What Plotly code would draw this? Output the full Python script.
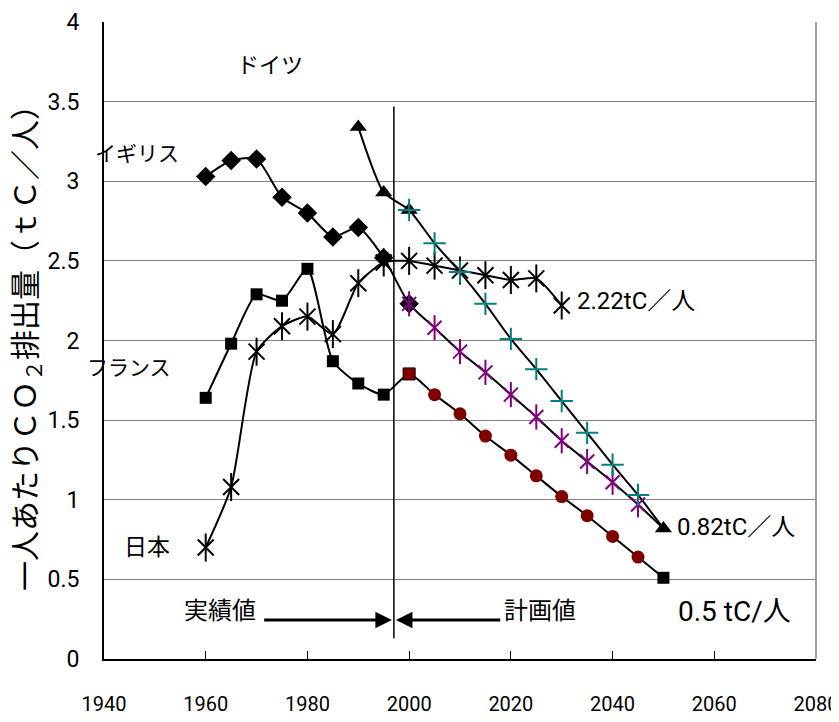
import plotly.graph_objects as go

# ---------------- data ----------------
ACT_YEARS = [1960, 1965, 1970, 1975, 1980, 1985, 1990, 1995]
PLAN_YEARS = [2000, 2005, 2010, 2015, 2020, 2025, 2030, 2035, 2040, 2045, 2050]

UK_ACT = [3.03, 3.13, 3.14, 2.90, 2.80, 2.65, 2.71, 2.52]
UK_PLAN = [2.23, 2.08, 1.93, 1.80, 1.66, 1.52, 1.37, 1.24, 1.11, 0.97, 0.82]

FR_ACT = [1.64, 1.98, 2.29, 2.25, 2.45, 1.87, 1.73, 1.66]
FR_PLAN = [1.79, 1.66, 1.54, 1.40, 1.28, 1.15, 1.02, 0.90, 0.77, 0.64, 0.51]

DE_ACT_YEARS = [1990, 1995]
DE_ACT = [3.34, 2.93]
DE_PLAN = [2.82, 2.61, 2.43, 2.23, 2.01, 1.82, 1.62, 1.42, 1.22, 1.03, 0.82]

JP_YEARS = [1960, 1965, 1970, 1975, 1980, 1985, 1990, 1995,
            2000, 2005, 2010, 2015, 2020, 2025, 2030]
JP = [0.70, 1.08, 1.93, 2.09, 2.15, 2.04, 2.36, 2.49,
      2.50, 2.47, 2.44, 2.41, 2.38, 2.39, 2.22]

KYOTO_YEAR = 1997
X_TICKS = [1940, 1960, 1980, 2000, 2020, 2040, 2060, 2080]
Y_TICKS = [0, 0.5, 1, 1.5, 2, 2.5, 3, 3.5, 4]

FONT = "Roboto, Noto Sans CJK JP, sans-serif"
BLACK = "#000000"
TEAL = "#008080"
PURPLE = "#800080"
DARKRED = "#800000"

fig = go.Figure()

LINE = dict(color=BLACK, width=2, shape="spline", smoothing=0.6)

# lines
fig.add_trace(go.Scatter(x=ACT_YEARS + PLAN_YEARS, y=UK_ACT + UK_PLAN, mode="lines", line=LINE))
fig.add_trace(go.Scatter(x=ACT_YEARS + PLAN_YEARS, y=FR_ACT + FR_PLAN, mode="lines", line=LINE))
fig.add_trace(go.Scatter(x=DE_ACT_YEARS + PLAN_YEARS, y=DE_ACT + DE_PLAN, mode="lines", line=LINE))
fig.add_trace(go.Scatter(x=JP_YEARS, y=JP, mode="lines", line=LINE))

# UK markers
fig.add_trace(go.Scatter(x=ACT_YEARS + PLAN_YEARS[:1], y=UK_ACT + UK_PLAN[:1], mode="markers",
                         marker=dict(symbol="diamond", size=15, color=BLACK)))
# France markers
fig.add_trace(go.Scatter(x=ACT_YEARS + PLAN_YEARS[-1:], y=FR_ACT + FR_PLAN[-1:], mode="markers",
                         marker=dict(symbol="square", size=12, color=BLACK)))
fig.add_trace(go.Scatter(x=PLAN_YEARS[:1], y=FR_PLAN[:1], mode="markers",
                         marker=dict(symbol="square", size=12, color=DARKRED,
                                     line=dict(color=BLACK, width=1))))
fig.add_trace(go.Scatter(x=PLAN_YEARS[1:-1], y=FR_PLAN[1:-1], mode="markers",
                         marker=dict(symbol="circle", size=13, color=DARKRED)))
# Japan markers (6-point asterisk)
fig.add_trace(go.Scatter(x=JP_YEARS, y=JP, mode="markers",
                         marker=dict(symbol="x-thin-open", size=16, color=BLACK,
                                     line=dict(width=2, color=BLACK))))
fig.add_trace(go.Scatter(x=JP_YEARS, y=JP, mode="markers",
                         marker=dict(symbol="line-ns-open", size=20, color=BLACK,
                                     line=dict(width=2, color=BLACK))))
# UK plan markers (purple asterisk)
fig.add_trace(go.Scatter(x=PLAN_YEARS[:-1], y=UK_PLAN[:-1], mode="markers",
                         marker=dict(symbol="x-thin-open", size=14, color=PURPLE,
                                     line=dict(width=2, color=PURPLE))))
fig.add_trace(go.Scatter(x=PLAN_YEARS[:-1], y=UK_PLAN[:-1], mode="markers",
                         marker=dict(symbol="line-ns-open", size=18, color=PURPLE,
                                     line=dict(width=2, color=PURPLE))))
# Germany markers
fig.add_trace(go.Scatter(x=DE_ACT_YEARS + PLAN_YEARS[:1] + PLAN_YEARS[-1:],
                         y=DE_ACT + DE_PLAN[:1] + DE_PLAN[-1:], mode="markers",
                         marker=dict(symbol="triangle-up", size=15, color=BLACK)))
fig.add_trace(go.Scatter(x=PLAN_YEARS[:-1], y=DE_PLAN[:-1], mode="markers",
                         marker=dict(symbol="cross-thin-open", size=16, color=TEAL,
                                     line=dict(width=2, color=TEAL))))

# Kyoto divider line
fig.add_shape(type="line", x0=KYOTO_YEAR, x1=KYOTO_YEAR, y0=0.13, y1=3.47,
              line=dict(color=BLACK, width=1.5))
# right border
fig.add_shape(type="line", xref="x domain", yref="y domain", x0=1, x1=1, y0=0, y1=1,
              line=dict(color="#808080", width=1.5))

# annotations
def txt(x, y, s, size=22, xanchor="center"):
    fig.add_annotation(x=x, y=y, text=s, showarrow=False, xanchor=xanchor, yanchor="middle",
                       font=dict(family=FONT, size=size, color=BLACK))

txt(1972.6, 3.73, "ドイツ", size=22)
txt(1946.5, 3.17, "イギリス", size=21)
txt(1945.0, 1.83, "フランス", size=21)
txt(1948.5, 0.70, "日本", size=23)
txt(2032.6, 2.25, "2.22tC／人", size=24, xanchor="left")
txt(2052.2, 0.83, "0.82tC／人", size=24, xanchor="left")
txt(2052.5, 0.30, "0.5 tC/人", size=28, xanchor="left")
txt(1962.8, 0.30, "実績値", size=24)
txt(2025.7, 0.30, "計画値", size=24)

ARROW_Y = 0.245
fig.add_annotation(x=KYOTO_YEAR - 0.4, y=ARROW_Y, ax=1971.2, ay=ARROW_Y, axref="x", ayref="y",
                   text="", showarrow=True, arrowhead=2, arrowsize=1.1, arrowwidth=3, arrowcolor=BLACK)
fig.add_annotation(x=KYOTO_YEAR + 0.4, y=ARROW_Y, ax=2018.2, ay=ARROW_Y, axref="x", ayref="y",
                   text="", showarrow=True, arrowhead=2, arrowsize=1.1, arrowwidth=3, arrowcolor=BLACK)

fig.update_layout(
    width=839, height=714,
    margin=dict(l=96, r=31, t=14, b=63, autoexpand=False),
    paper_bgcolor="white", plot_bgcolor="white",
    showlegend=False,
    font=dict(family=FONT, color=BLACK),
    xaxis=dict(range=[1940, 2080], tickvals=X_TICKS, showgrid=False, zeroline=False,
               showline=True, linecolor=BLACK, linewidth=2, automargin=False,
               ticks="inside", ticklen=8, tickcolor=BLACK, ticklabeloverflow="allow",
               ticklabelstandoff=26, tickfont=dict(family=FONT, size=20, color=BLACK)),
    yaxis=dict(range=[0, 4], tickvals=Y_TICKS, showgrid=True, gridcolor="#808080", gridwidth=1.2,
               zeroline=False, showline=True, linecolor=BLACK, linewidth=2, automargin=False,
               ticks="outside", ticklen=18, tickcolor="rgba(0,0,0,0)",
               tickfont=dict(family=FONT, size=23, color=BLACK),
               title=dict(text="一人あたりＣＯ<sub>２</sub>排出量（ｔＣ／人）",
                          font=dict(family=FONT, size=30, color=BLACK), standoff=8)),
)

fig.write_html("out.html")
